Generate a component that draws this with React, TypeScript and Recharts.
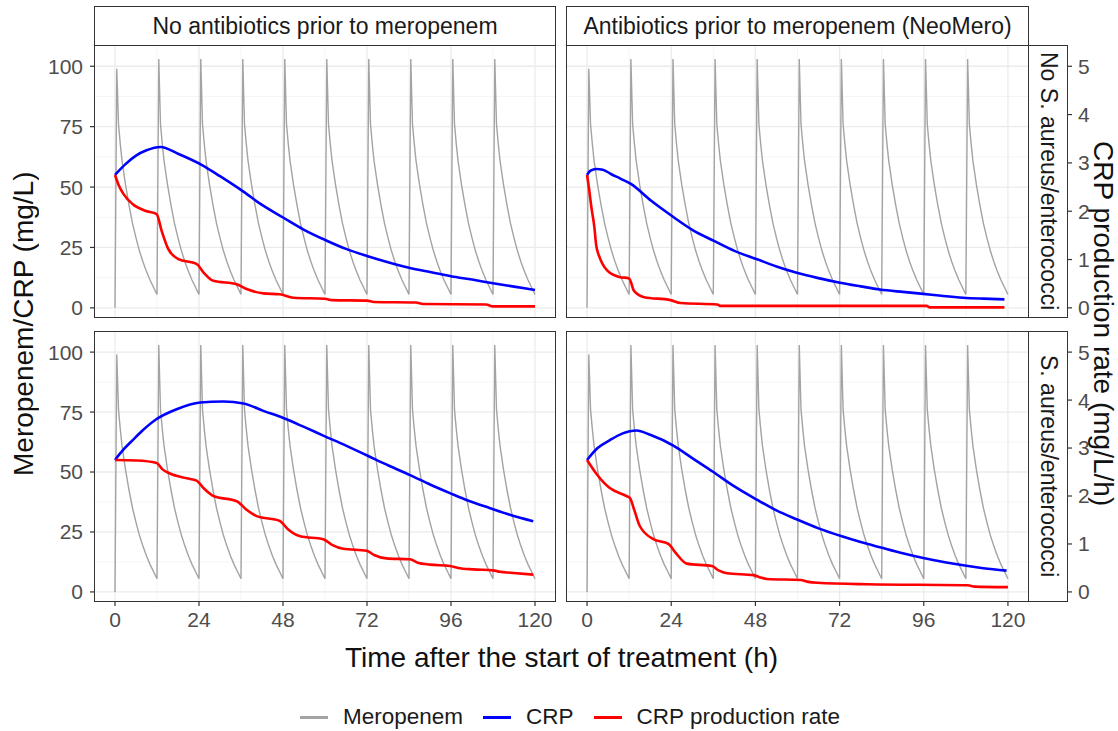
import React from 'react';
import { LineChart, Line, XAxis, YAxis, CartesianGrid } from 'recharts';

// Meropenem: 10 doses every 12 h, one concentration-time shape per dose
const MERO_DOSE_TIMES = [0, 12, 24, 36, 48, 60, 72, 84, 96, 108];
const MERO_PEAKS = [99, 103, 103, 103, 103, 103, 103, 103, 103, 103];
const MERO_DECAY_OFFSETS = [1, 1.5, 2, 3, 4, 5, 6, 7, 8, 9, 10, 11, 12];
const MERO_DECAY_LEVELS = [76, 68, 61, 51, 42.5, 35, 29, 23.5, 19, 15, 11.5, 8.5, 5.5];

// CRP (mg/L) per panel, [hour, value]
const CRP_NOAB_NOSA = [[0, 55], [3, 59.5], [6, 63], [9, 65.2], [13, 66.6], [18, 63.8], [25, 59], [30, 54.5], [36.7, 48.1], [42, 42.6], [48, 37.4], [54, 32.3], [60.5, 27.8], [66, 24.4], [72, 21.5], [78, 18.9], [84, 16.6], [90, 14.8], [96, 13.1], [102, 11.7], [108, 10.2], [114, 8.8], [120, 7.4]];
const CRP_AB_NOSA = [[0, 55], [1, 56.8], [2.6, 57.5], [4.5, 57.2], [6.8, 55.4], [9.5, 53.5], [12.5, 51.3], [18.2, 44.4], [24.8, 37.4], [30, 32.3], [36.2, 27.7], [42, 23.6], [48.5, 20.1], [54, 17.1], [59.8, 14.5], [66, 12.3], [72.1, 10.4], [78, 8.9], [83.5, 7.6], [90, 6.6], [95.8, 5.8], [101, 5], [107.2, 4.2], [113, 3.8], [119, 3.5]];
const CRP_NOAB_SA = [[0, 55], [2.5, 59.5], [5, 63.2], [8, 67.5], [11.9, 72.1], [17.6, 76.2], [24.3, 79], [31, 79.4], [36.7, 78.6], [42.4, 75.5], [48.1, 72.5], [54, 68.8], [59.5, 65.2], [66, 61], [71.9, 57], [78, 52.8], [84.3, 48.7], [90, 44.8], [95.7, 41.2], [101, 38], [107, 35], [113, 32.1], [119.5, 29.5]];
const CRP_AB_SA = [[0, 55], [3, 60], [6.4, 63.2], [10, 66], [14.1, 67.3], [18, 65.5], [24.6, 61], [30, 55.8], [36, 50], [42, 44], [48.5, 38.4], [54, 34], [59.9, 30.2], [66, 26.5], [72.4, 23.3], [78, 20.8], [83.8, 18.5], [90, 16.1], [96.2, 14], [102, 12.4], [107.7, 11], [113, 9.9], [119.6, 8.9]];

// CRP production rate (mg/L/h) per panel, [hour, value]
const RATE_NOAB_NOSA = [[0, 2.75], [1, 2.55], [2.4, 2.36], [5, 2.15], [8.6, 2.01], [11.9, 1.94], [13.3, 1.6], [15.2, 1.22], [18.1, 1.01], [23.3, 0.91], [25.2, 0.74], [28.1, 0.56], [34.8, 0.49], [37.6, 0.39], [42.4, 0.3], [47.1, 0.28], [51, 0.21], [60, 0.19], [62, 0.16], [72, 0.15], [74, 0.12], [86, 0.11], [88, 0.08], [106, 0.07], [108, 0.03], [120, 0.03]];
const RATE_AB_NOSA = [[0, 2.75], [0.6, 2.45], [1.2, 2.1], [2.1, 1.66], [2.6, 1.3], [3.4, 1.08], [4.4, 0.91], [5.8, 0.77], [9.2, 0.64], [12, 0.61], [13.4, 0.35], [16.3, 0.22], [23.8, 0.16], [26.7, 0.1], [37.1, 0.07], [38, 0.04], [96.8, 0.04], [97.7, 0.01], [119, 0.01]];
const RATE_NOAB_SA = [[0, 2.75], [6.2, 2.74], [11.9, 2.69], [13.5, 2.56], [15.7, 2.47], [20.5, 2.37], [23.3, 2.32], [25.5, 2.15], [28.1, 2.0], [34.8, 1.89], [37.5, 1.72], [40.5, 1.58], [47.1, 1.48], [49.5, 1.3], [52.9, 1.16], [59.5, 1.1], [62, 0.98], [65.2, 0.9], [71.9, 0.86], [74, 0.77], [77.6, 0.7], [84.3, 0.68], [86.5, 0.61], [90, 0.57], [95.7, 0.54], [98, 0.5], [102.4, 0.47], [108, 0.45], [110, 0.42], [113, 0.4], [119.5, 0.36]];
const RATE_AB_SA = [[0, 2.75], [2.6, 2.47], [6.4, 2.17], [11.2, 2.0], [12.2, 1.96], [13.5, 1.7], [15, 1.38], [18.9, 1.1], [23.2, 1.0], [25.1, 0.83], [28.4, 0.59], [35.6, 0.54], [37.5, 0.45], [39.9, 0.39], [47.5, 0.35], [49.5, 0.3], [51.3, 0.27], [60.9, 0.25], [63, 0.21], [65.7, 0.19], [80, 0.16], [108.6, 0.14], [110.5, 0.11], [120, 0.1]];

const X_TICKS = [0, 24, 48, 72, 96, 120];
const X_MINOR = [12, 36, 60, 84, 108];
const Y_TICKS = [0, 25, 50, 75, 100];
const Y_MINOR = [12.5, 37.5, 62.5, 87.5];
const RATE_TICKS = [0, 1, 2, 3, 4, 5];

const COL_LABELS = ['No antibiotics prior to meropenem', 'Antibiotics prior to meropenem (NeoMero)'];
const ROW_LABELS = ['No S. aureus/enterococci', 'S. aureus/enterococci'];

const X_DOMAIN = [-6, 126];
const Y_DOMAIN = [-4.2, 108.8];
const RATE_DOMAIN = [Y_DOMAIN[0] / 20, Y_DOMAIN[1] / 20];

const FONT = '"Liberation Sans", Arial, sans-serif';
const DARK = '#333333';
const TICK_TEXT = '#4D4D4D';
const GREY = '#A3A3A3';

const COLS = [{ left: 94, width: 462 }, { left: 566, width: 463 }];
const ROWS = [{ top: 45, height: 273 }, { top: 331, height: 271 }];
const X_AXIS_H = 40;

const toPoints = (pairs: number[][]) => pairs.map(([t, v]) => ({ t, v }));

const buildMeropenem = () => {
  const pts = [{ t: 0, v: 0 }];
  MERO_DOSE_TIMES.forEach((d, i) => {
    pts.push({ t: d + 0.5, v: MERO_PEAKS[i] });
    MERO_DECAY_OFFSETS.forEach((o, j) => pts.push({ t: d + o, v: MERO_DECAY_LEVELS[j] }));
  });
  return pts;
};
const meroData = buildMeropenem();

const panels = [
  { row: 0, col: 0, crp: CRP_NOAB_NOSA, rate: RATE_NOAB_NOSA },
  { row: 0, col: 1, crp: CRP_AB_NOSA, rate: RATE_AB_NOSA },
  { row: 1, col: 0, crp: CRP_NOAB_SA, rate: RATE_NOAB_SA },
  { row: 1, col: 1, crp: CRP_AB_SA, rate: RATE_AB_SA },
];

const tickStyle = { fontSize: 21, fill: TICK_TEXT, fontFamily: FONT };

const Panel = ({ row, col, crp, rate }: any) => {
  const showY = col === 0;
  const showX = row === 1;
  const yW = showY ? COLS[0].left : 0;
  const left = showY ? 0 : COLS[col].left;
  const width = COLS[col].width + yW;
  const height = ROWS[row].height + (showX ? X_AXIS_H : 0);
  return (
    <LineChart
      width={width}
      height={height}
      margin={{ top: 0, right: 0, bottom: 0, left: 0 }}
      style={{ position: 'absolute', left, top: ROWS[row].top }}
    >
      <CartesianGrid yAxisId="left" stroke="#F3F3F3" strokeWidth={0.8} horizontalValues={Y_MINOR} verticalValues={X_MINOR} />
      <CartesianGrid yAxisId="left" stroke="#EBEBEB" strokeWidth={1.3} horizontalValues={Y_TICKS} verticalValues={X_TICKS} />
      <XAxis
        type="number"
        dataKey="t"
        domain={X_DOMAIN}
        ticks={X_TICKS}
        interval={0}
        hide={!showX}
        height={X_AXIS_H}
        axisLine={false}
        tickLine={{ stroke: DARK, strokeWidth: 1.2 }}
        tickSize={4}
        tickMargin={6}
        tick={tickStyle}
        allowDataOverflow
      />
      <YAxis
        yAxisId="left"
        type="number"
        domain={Y_DOMAIN}
        ticks={Y_TICKS}
        interval={0}
        hide={!showY}
        width={yW}
        axisLine={false}
        tickLine={{ stroke: DARK, strokeWidth: 1.2 }}
        tickSize={4}
        tickMargin={7}
        tick={tickStyle}
        allowDataOverflow
      />
      <YAxis yAxisId="right" orientation="right" type="number" domain={RATE_DOMAIN} hide allowDataOverflow />
      <Line yAxisId="left" data={meroData} dataKey="v" type="linear" stroke={GREY} strokeWidth={1.4} dot={false} isAnimationActive={false} />
      <Line yAxisId="left" data={toPoints(crp)} dataKey="v" type="monotone" stroke="#0000FF" strokeWidth={2.6} dot={false} isAnimationActive={false} />
      <Line yAxisId="right" data={toPoints(rate)} dataKey="v" type="monotone" stroke="#FF0000" strokeWidth={2.6} dot={false} isAnimationActive={false} />
    </LineChart>
  );
};

const RightAxis = ({ row }: any) => (
  <LineChart
    width={70}
    height={ROWS[row].height}
    margin={{ top: 0, right: 0, bottom: 0, left: 0 }}
    style={{ position: 'absolute', left: 1060, top: ROWS[row].top }}
  >
    <XAxis type="number" dataKey="t" domain={[0, 1]} hide />
    <YAxis
      yAxisId="r"
      orientation="right"
      type="number"
      domain={RATE_DOMAIN}
      ticks={RATE_TICKS}
      interval={0}
      width={62}
      axisLine={false}
      tickLine={{ stroke: DARK, strokeWidth: 1.2 }}
      tickSize={4}
      tickMargin={6}
      tick={tickStyle}
      allowDataOverflow
    />
  </LineChart>
);

const box = (left: number, top: number, width: number, height: number): React.CSSProperties => ({
  position: 'absolute',
  left,
  top,
  width,
  height,
  boxSizing: 'border-box',
  border: `1.5px solid ${DARK}`,
  pointerEvents: 'none',
});

const LegendItem = ({ color, label }: any) => (
  <div style={{ display: 'flex', alignItems: 'center', marginRight: 20 }}>
    <div style={{ width: 28, height: 3, background: color, marginRight: 15 }} />
    <span>{label}</span>
  </div>
);

export default function App() {
  return (
    <div style={{ position: 'absolute', left: 0, top: 0, width: 1118, height: 731, background: '#fff', fontFamily: FONT, overflow: 'hidden' }}>
      {panels.map((p) => (
        <Panel key={`${p.row}-${p.col}`} {...p} />
      ))}
      <RightAxis row={0} />
      <RightAxis row={1} />

      {/* panel borders */}
      {panels.map((p) => (
        <div key={`b-${p.row}-${p.col}`} style={box(COLS[p.col].left, ROWS[p.row].top, COLS[p.col].width, ROWS[p.row].height)} />
      ))}

      {/* column strips */}
      {COL_LABELS.map((lab, i) => (
        <div
          key={lab}
          style={{ ...box(COLS[i].left, 6, COLS[i].width, 40), display: 'flex', alignItems: 'center', justifyContent: 'center', fontSize: 23, color: '#1A1A1A', background: '#fff' }}
        >
          {lab}
        </div>
      ))}

      {/* row strips */}
      {ROW_LABELS.map((lab, i) => (
        <div
          key={lab}
          style={{ ...box(1028, ROWS[i].top, 40, ROWS[i].height), display: 'flex', alignItems: 'center', justifyContent: 'center', fontSize: 23, color: '#1A1A1A', writingMode: 'vertical-rl' }}
        >
          {lab}
        </div>
      ))}

      {/* axis titles */}
      <div style={{ position: 'absolute', left: 94, top: 640, width: 935, textAlign: 'center', fontSize: 28, color: '#111', lineHeight: '36px' }}>
        Time after the start of treatment (h)
      </div>
      <div style={{ position: 'absolute', left: 6, top: 45, width: 36, height: 557, display: 'flex', alignItems: 'center', justifyContent: 'center', writingMode: 'vertical-rl', transform: 'rotate(180deg)', fontSize: 28, color: '#111' }}>
        Meropenem/CRP (mg/L)
      </div>
      <div style={{ position: 'absolute', left: 1085, top: 45, width: 36, height: 557, display: 'flex', alignItems: 'center', justifyContent: 'center', writingMode: 'vertical-rl', fontSize: 28, color: '#111' }}>
        CRP production rate (mg/L/h)
      </div>

      {/* legend */}
      <div style={{ position: 'absolute', left: 0, top: 704, width: 1160, display: 'flex', justifyContent: 'center', fontSize: 22.5, color: '#1A1A1A' }}>
        <LegendItem color={GREY} label="Meropenem" />
        <LegendItem color="#0000FF" label="CRP" />
        <LegendItem color="#FF0000" label="CRP production rate" />
      </div>
    </div>
  );
}
